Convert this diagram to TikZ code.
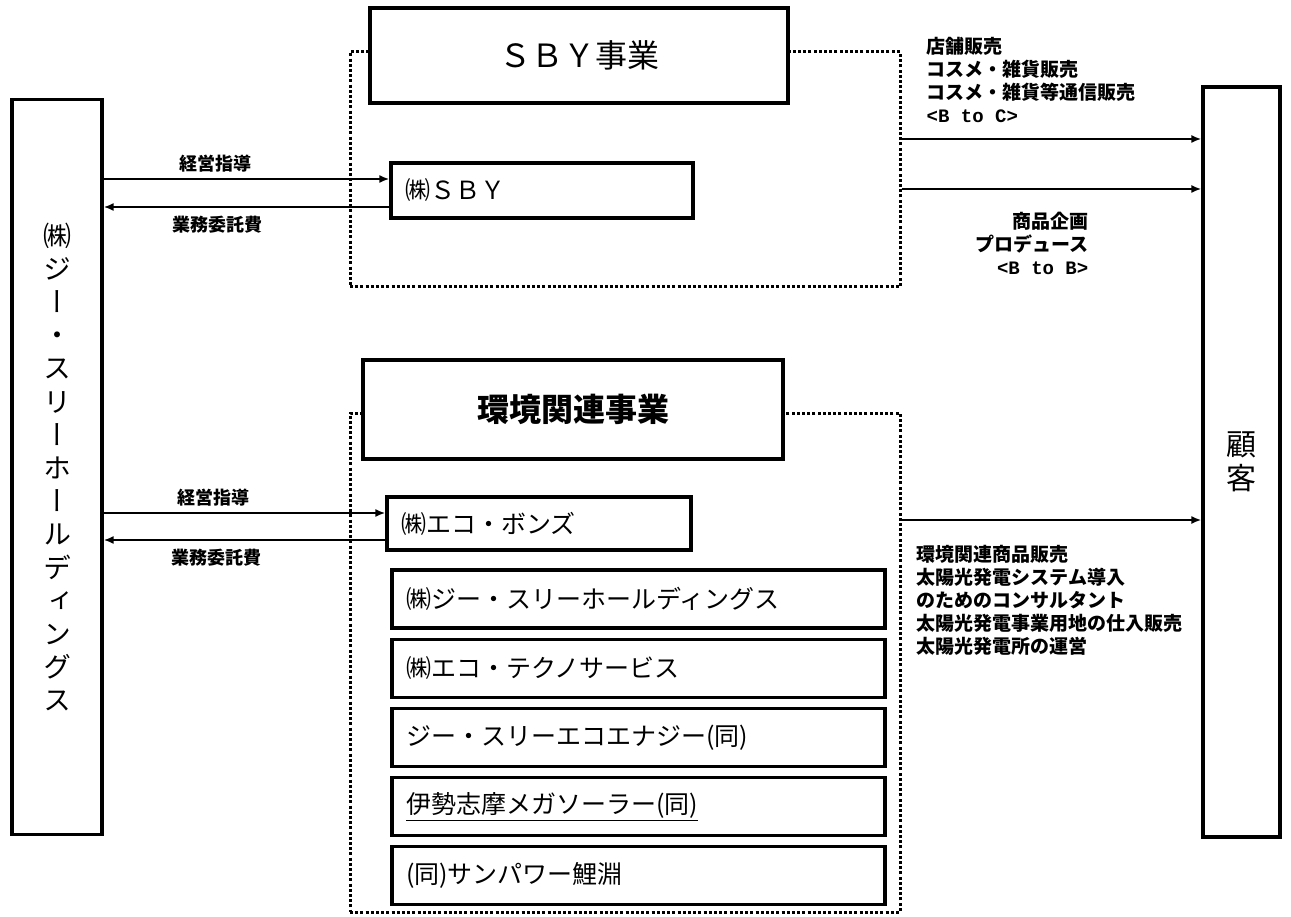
\documentclass[tikz,border=0pt]{standalone}
\usepackage{fontspec}
\setmainfont{Noto Sans CJK JP}
\newfontfamily\vjp[RawFeature=+vert]{Noto Sans CJK JP}
\newfontfamily\latinmono{Liberation Mono}
\usetikzlibrary{arrows.meta,positioning}

\begin{document}
\begin{tikzpicture}[
  x=1pt, y=-1pt,
  node distance=8pt,
  side/.style={rectangle, draw=black, line width=3.2pt, align=center, inner sep=0pt},
  title/.style={rectangle, draw=black, line width=3.2pt, fill=white, font=\fontsize{32}{36}\selectfont},
  firm/.style={rectangle, draw=black, line width=3.2pt, fill=white, inner xsep=14pt, align=left, font=\fontsize{25}{28}\selectfont},
  area/.style={rectangle, draw=black, line width=3pt, dash pattern=on 3pt off 2.2pt},
  arrow/.style={-{Latex[length=10pt,width=8pt]}, line width=2.2pt},
  lbl/.style={font=\fontsize{18}{20}\selectfont\bfseries, inner sep=2pt},
  note/.style={font=\fontsize{19}{23}\selectfont\bfseries, inner sep=0pt}
]
\useasboundingbox (0,0) rectangle (1291,917);

% holding company and customers
\node[side, minimum width=90pt, minimum height=735pt, font=\vjp\fontsize{28}{33.2}\selectfont] (hd) at (57,467)
  {㈱\\ジ\\ー\\・\\ス\\リ\\ー\\ホ\\ー\\ル\\デ\\ィ\\ン\\グ\\ス};
\node[side, minimum width=77pt, minimum height=750pt, font=\fontsize{30}{34}\selectfont] (cust) at (1241.5,462)
  {顧\\客};

% SBY business
\node[area, minimum width=550pt, minimum height=235pt] (sbyarea) at (625,169.5) {};
\node[title, minimum width=418pt, minimum height=95pt] (sbytitle) at (579,55.5) {ＳＢＹ事業};
\node[firm, text width=274pt, minimum height=55pt] (sby) at (542,190.5) {㈱ＳＢＹ};

% environment business
\node[area, minimum width=550pt, minimum height=499pt] (envarea) at (625,662.5) {};
\node[title, minimum width=420pt, minimum height=99pt, font=\fontsize{32}{36}\selectfont\bfseries] (envtitle) at (573,409.5) {環境関連事業};
\node[firm, text width=276pt, minimum height=53pt] (eco) at (539,523.5) {㈱エコ・ボンズ};
\node[firm, text width=465pt, minimum height=58pt] (g3) at (638.5,599) {㈱ジー・スリーホールディングス};
\node[firm, text width=465pt, minimum height=58pt, below=of g3] (techno) {㈱エコ・テクノサービス};
\node[firm, text width=465pt, minimum height=58pt, below=of techno] (energy) {ジー・スリーエコエナジー(同)};
\node[firm, text width=465pt, minimum height=58pt, below=of energy] (mega) {\underline{伊勢志摩メガソーラー(同)}};
\node[firm, text width=465pt, minimum height=58pt, below=of mega] (sun) {(同)サンパワー鯉淵};

% management and fees
\coordinate (sbyin) at ([yshift=11.5pt]sby.west);
\coordinate (sbyout) at ([yshift=-16.5pt]sby.west);
\draw[arrow] (sbyin -| hd.east) -- node[lbl, above=4pt, pos=0.39] {経営指導} (sbyin);
\draw[arrow] (sbyout) -- node[lbl, below=6pt, pos=0.6] {業務委託費} (sbyout -| hd.east);
\coordinate (ecoin) at ([yshift=10.5pt]eco.west);
\coordinate (ecoout) at ([yshift=-16.5pt]eco.west);
\draw[arrow] (ecoin -| hd.east) -- node[lbl, above=4pt, pos=0.39] {経営指導} (ecoin);
\draw[arrow] (ecoout) -- node[lbl, below=6pt, pos=0.6] {業務委託費} (ecoout -| hd.east);

% sales to customers
\coordinate (b2c) at ([yshift=30.5pt]sbyarea.east);
\coordinate (b2b) at ([yshift=-19.5pt]sbyarea.east);
\coordinate (envsale) at ([yshift=142.5pt]envarea.east);
\draw[arrow] (b2c) -- (b2c -| cust.west);
\draw[arrow] (b2b) -- (b2b -| cust.west);
\draw[arrow] (envsale) -- (envsale -| cust.west);

\node[note, align=left, above right=16.5pt and 25pt of b2c] (b2ctext)
  {店舗販売\\コスメ・雑貨販売\\コスメ・雑貨等通信販売\\{\latinmono <B to C>}};
\node[note, align=right, anchor=north east] (b2btext) at ([xshift=187pt,yshift=-23.3pt]b2b)
  {商品企画\\プロデュース\\{\latinmono <B to B>}};
\node[note, align=left, below right=25.3pt and 15pt of envsale] (envtext)
  {環境関連商品販売\\太陽光発電システム導入\\のためのコンサルタント\\太陽光発電事業用地の仕入販売\\太陽光発電所の運営};
\end{tikzpicture}
\end{document}
